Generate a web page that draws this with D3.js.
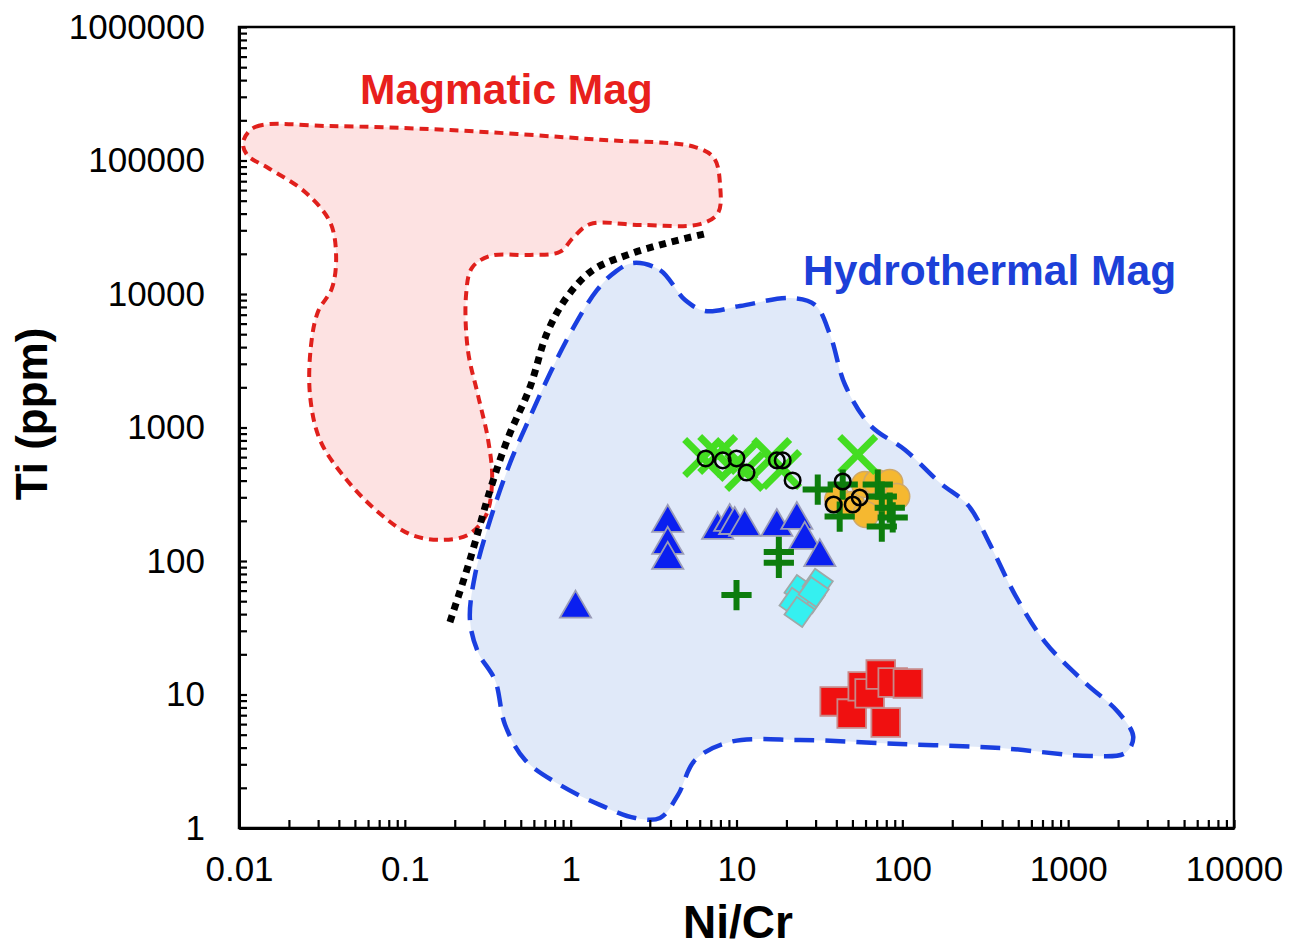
<!DOCTYPE html>
<html>
<head>
<meta charset="utf-8">
<script src="https://cdn.jsdelivr.net/npm/d3@7"></script>
<style>
  body { margin: 0; background: #fff; }
  text { font-family: "Liberation Sans", Arial, sans-serif; }
</style>
</head>
<body>
<div id="chart"></div>
<script>
// tick labels
const xTickLabels = ["0.01", "0.1", "1", "10", "100", "1000", "10000"];
const yTickLabels = ["1", "10", "100", "1000", "10000", "100000", "1000000"];

// field outlines, [Ni/Cr, Ti ppm]
const magmaticOutline = [
  [0.0106, 138000], [0.0125, 178000], [0.0354, 181000], [0.1875, 169000], [1.50, 143000],
  [5.63, 126000], [7.33, 104000], [7.96, 65400], [7.74, 40500], [6.03, 33400],
  [2.62, 32900], [1.31, 33400], [1.03, 26200], [0.863, 20700], [0.569, 19600],
  [0.327, 19300], [0.254, 15700], [0.234, 9840], [0.240, 3800], [0.276, 1750],
  [0.318, 805], [0.336, 405], [0.309, 221], [0.240, 157], [0.163, 144],
  [0.107, 159], [0.0689, 233], [0.0436, 419], [0.0308, 805], [0.0268, 1750],
  [0.0272, 4150], [0.0299, 7330], [0.0364, 11100], [0.0385, 19600], [0.0354, 34600],
  [0.0250, 58100], [0.0150, 87900], [0.0112, 110000]
];
const hydrothermalOutline = [
  [2.38, 17100], [3.46, 15100], [4.90, 9020], [6.47, 7460], [10.5, 8130],
  [21.0, 9330], [29.8, 8270], [36.7, 4930], [45.2, 2080], [64.0, 1040],
  [104, 678], [169, 384], [249, 262], [339, 132], [479, 55.6],
  [726, 24.7], [1270, 12.2], [2000, 7.40], [2470, 4.81], [2210, 3.65],
  [1360, 3.46], [389, 3.97], [97.0, 4.26], [24.2, 4.56], [9.15, 4.41],
  [5.63, 3.23], [4.44, 1.77], [3.46, 1.19], [2.45, 1.19], [1.50, 1.49],
  [0.863, 2.10], [0.531, 3.23], [0.402, 5.94], [0.350, 12.8], [0.276, 20.8],
  [0.247, 36.1], [0.265, 78.5], [0.327, 203], [0.431, 542], [0.569, 1200],
  [0.752, 2560], [1.02, 5370], [1.44, 10700], [1.85, 14600]
];
const boundaryLine = [
  [0.187, 34.9], [0.247, 102], [0.327, 341], [0.419, 834], [0.569, 2010],
  [0.721, 5110], [0.951, 9510], [1.36, 15100], [2.19, 19600], [3.81, 24100], [6.74, 28600]
];

// samples, [Ni/Cr, Ti ppm]
const triangles = [
  [1.07, 44], [3.85, 193], [3.85, 132], [3.85, 102], [7.7, 171], [9.1, 196],
  [9.75, 186], [11.2, 180], [17.5, 180], [23.1, 203], [25.8, 144], [31.8, 107]
];
const squares = [
  [39.1, 8.87], [49.5, 7.2], [57.7, 11.5], [63.5, 10.2], [74.1, 14.1],
  [79.4, 6.17], [87.5, 12.3], [108, 12.1]
];
const diamonds = [
  [24.0, 60.6], [30.9, 67.3], [27.6, 52.8], [22.4, 48.5], [24.0, 41.5], [29.2, 58.6]
];
const orangeCircles = [
  [40.8, 289], [49.5, 265], [59.3, 374], [70.1, 387], [84, 387], [92.5, 304], [73.1, 265], [60.1, 223]
];
const crosses = [
  [6.25, 596], [7.7, 628], [10.2, 556], [11.2, 468], [16.3, 596], [18.7, 484], [53.8, 628]
];
const pluses = [
  [10, 55.6], [18, 117], [18, 97], [30.9, 343], [43.7, 374], [41.9, 215],
  [71.1, 374], [75.2, 304], [84, 251], [87.5, 212], [75.2, 181]
];
const openCircles = [
  [6.52, 586], [8.26, 567], [10.0, 586], [11.5, 460], [17.5, 567], [19.0, 567],
  [21.8, 401], [43.7, 394], [38.5, 265], [50.2, 265], [55.3, 299]
];

const W = 1300, H = 952;
const m = { left: 239, right: 1234, top: 27, bottom: 828 };

const svg = d3.select("#chart").append("svg")
  .attr("width", W).attr("height", H);

const x = d3.scaleLog().domain([0.01, 10000]).range([m.left, m.right]);
const y = d3.scaleLog().domain([1, 1000000]).range([m.bottom, m.top]);

svg.append("defs").append("clipPath").attr("id", "plot")
  .append("rect").attr("x", m.left).attr("y", m.top)
  .attr("width", m.right - m.left).attr("height", m.bottom - m.top);

const plot = svg.append("g").attr("clip-path", "url(#plot)");

const area = d3.line()
  .x(d => x(d[0])).y(d => y(d[1]))
  .curve(d3.curveCatmullRomClosed.alpha(0.5));

plot.append("path")
  .attr("d", area(magmaticOutline))
  .attr("fill", "#fde2e2")
  .attr("stroke", "#e0201c")
  .attr("stroke-width", 4)
  .attr("stroke-dasharray", "9,6");

plot.append("path")
  .attr("d", area(hydrothermalOutline))
  .attr("fill", "#e0e9f9")
  .attr("stroke", "#1a3fe0")
  .attr("stroke-width", 4.5)
  .attr("stroke-dasharray", "20,11");

plot.append("path")
  .attr("d", d3.line().x(d => x(d[0])).y(d => y(d[1])).curve(d3.curveCatmullRom)(boundaryLine))
  .attr("fill", "none")
  .attr("stroke", "#000")
  .attr("stroke-width", 7)
  .attr("stroke-dasharray", "7,6");

// markers
function drawSymbols(data, type, size, fill, stroke, sw, rotate) {
  const sym = d3.symbol().type(type).size(size);
  plot.append("g").selectAll("path")
    .data(data).enter().append("path")
    .attr("d", sym)
    .attr("transform", d => `translate(${x(d[0])},${y(d[1])}) rotate(${rotate || 0})`)
    .attr("fill", fill)
    .attr("stroke", stroke)
    .attr("stroke-width", sw);
}

drawSymbols(triangles, d3.symbolTriangle, 420, "#0a1ff0", "#9a9cb8", 1.8);
drawSymbols(squares, d3.symbolSquare, 820, "#f01010", "#c88888", 1.8);
drawSymbols(diamonds, d3.symbolSquare, 470, "#35f0f0", "#a0a8a8", 1.8, 35);
drawSymbols(orangeCircles, d3.symbolCircle, 530, "#f5b830", "#cfa868", 1.5);
drawSymbols(crosses, d3.symbolTimes, 850, "none", "#44dd22", 7);
drawSymbols(pluses, d3.symbolPlus, 300, "none", "#0d7d0d", 6);
drawSymbols(openCircles, d3.symbolCircle, 190, "none", "#000", 2.5);

// frame
svg.append("rect")
  .attr("x", m.left).attr("y", m.top)
  .attr("width", m.right - m.left).attr("height", m.bottom - m.top)
  .attr("fill", "none").attr("stroke", "#000").attr("stroke-width", 2.5);

// axes
function logTicks(lo, hi) {
  const t = [];
  for (let e = lo; e < hi; e++)
    for (let k = 1; k < 10; k++) t.push(+(k * Math.pow(10, e)).toPrecision(3));
  t.push(Math.pow(10, hi));
  return t;
}
function decadeLabel(labels, lo) {
  return d => {
    const l = Math.log10(d);
    const r = Math.round(l);
    return Math.abs(l - r) < 1e-6 ? labels[r - lo] : "";
  };
}

const xAxis = svg.append("g")
  .attr("transform", `translate(0,${m.bottom})`)
  .call(d3.axisBottom(x)
    .tickValues(logTicks(-2, 4))
    .tickFormat(decadeLabel(xTickLabels, -2))
    .tickSizeInner(-8).tickSizeOuter(0).tickPadding(28));

const yAxis = svg.append("g")
  .attr("transform", `translate(${m.left},0)`)
  .call(d3.axisLeft(y)
    .tickValues(logTicks(0, 6))
    .tickFormat(decadeLabel(yTickLabels, 0))
    .tickSizeInner(-8).tickSizeOuter(0).tickPadding(34));

[xAxis, yAxis].forEach(a => {
  a.select(".domain").attr("stroke-width", 3);
  a.selectAll(".tick line").attr("stroke-width", 2.2);
  a.selectAll(".tick text")
    .style("font-family", "'Liberation Sans', Arial, sans-serif")
    .style("font-size", "35px")
    .attr("fill", "#000");
});

// titles
svg.append("text")
  .attr("x", 738).attr("y", 938)
  .attr("text-anchor", "middle")
  .style("font-size", "46px").style("font-weight", "bold")
  .text("Ni/Cr");

svg.append("text")
  .attr("transform", "translate(47,414) rotate(-90)")
  .attr("text-anchor", "middle")
  .style("font-size", "44px").style("font-weight", "bold")
  .text("Ti (ppm)");

svg.append("text")
  .attr("x", 360).attr("y", 104)
  .style("font-size", "42.5px").style("font-weight", "bold")
  .attr("fill", "#e8201c")
  .text("Magmatic Mag");

svg.append("text")
  .attr("x", 803).attr("y", 285)
  .style("font-size", "42.5px").style("font-weight", "bold")
  .attr("fill", "#1c40d8")
  .text("Hydrothermal Mag");
</script>
</body>
</html>
